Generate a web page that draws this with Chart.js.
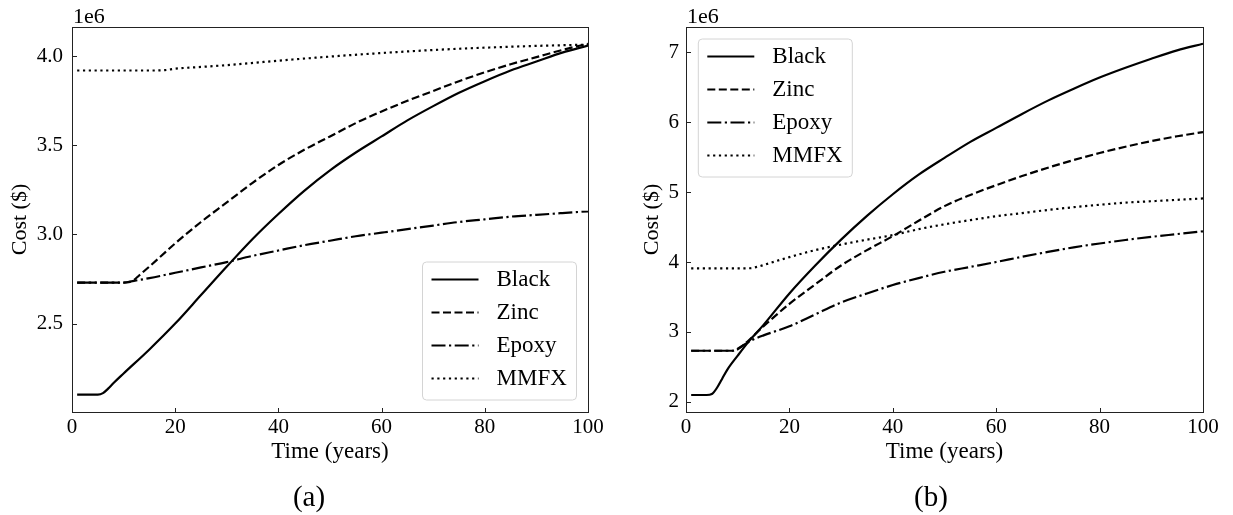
<!DOCTYPE html>
<html><head><meta charset="utf-8">
<script src="https://cdn.jsdelivr.net/npm/chart.js@4.4.0/dist/chart.umd.min.js"></script>
<style>
html,body{margin:0;padding:0;background:#fff;}
#wrap{position:relative;width:1233px;height:515px;overflow:hidden;}
canvas{position:absolute;top:0;}
</style></head><body>
<div id="wrap">
<canvas id="ca" width="613" height="515" style="left:0;width:613px;height:515px"></canvas>
<canvas id="cb" width="620" height="515" style="left:613px;width:620px;height:515px"></canvas>
</div>
<script>
// ---------- DATA ----------
const seriesNames = ['Black', 'Zinc', 'Epoxy', 'MMFX'];
const xTicks = [0, 20, 40, 60, 80, 100];
const yTicksA = [2.5, 3.0, 3.5, 4.0];
const yTicksB = [2, 3, 4, 5, 6, 7];

// Panel (a)  (cost in millions of $)
const blackA_t = [1, 5, 6, 7, 8, 10, 15, 20, 25, 30, 35, 40, 45, 50, 55, 60, 65, 70, 75, 80, 85, 90, 95, 100];
const blackA_c = [2.102, 2.102, 2.11, 2.135, 2.165, 2.22, 2.355, 2.50, 2.66, 2.82, 2.975, 3.115, 3.245, 3.36, 3.46, 3.55, 3.64, 3.72, 3.795, 3.86, 3.92, 3.97, 4.02, 4.06];
const zincA_t = [1, 5, 10, 11, 12, 13, 15, 20, 25, 30, 35, 40, 45, 50, 55, 60, 65, 70, 75, 80, 85, 90, 95, 100];
const zincA_c = [2.73, 2.73, 2.73, 2.732, 2.745, 2.77, 2.82, 2.95, 3.07, 3.18, 3.29, 3.39, 3.475, 3.55, 3.625, 3.69, 3.75, 3.805, 3.86, 3.91, 3.955, 3.995, 4.035, 4.07];
const epoxyA_t = [1, 5, 10, 12, 15, 20, 25, 30, 35, 40, 45, 50, 55, 60, 65, 70, 75, 80, 85, 90, 95, 100];
const epoxyA_c = [2.73, 2.73, 2.73, 2.74, 2.755, 2.785, 2.815, 2.845, 2.88, 2.91, 2.94, 2.965, 2.99, 3.01, 3.03, 3.05, 3.07, 3.085, 3.10, 3.11, 3.12, 3.13];
const mmfxA_t = [1, 10, 15, 18, 20, 25, 30, 40, 50, 60, 70, 80, 90, 100];
const mmfxA_c = [3.92, 3.92, 3.92, 3.922, 3.93, 3.94, 3.95, 3.975, 3.998, 4.018, 4.035, 4.048, 4.058, 4.065];

// Panel (b)
const blackB_t = [1, 4, 5, 6, 7, 8, 10, 12, 15, 20, 25, 30, 35, 40, 45, 50, 55, 60, 65, 70, 75, 80, 85, 90, 95, 100];
const blackB_c = [2.096, 2.096, 2.11, 2.2, 2.33, 2.46, 2.66, 2.85, 3.1, 3.55, 3.95, 4.32, 4.66, 4.97, 5.25, 5.49, 5.72, 5.92, 6.12, 6.31, 6.48, 6.64, 6.78, 6.91, 7.03, 7.125];
const zincB_t = [1, 5, 9, 10, 12, 15, 20, 25, 30, 35, 40, 45, 50, 55, 60, 65, 70, 75, 80, 85, 90, 95, 100];
const zincB_c = [2.73, 2.73, 2.73, 2.75, 2.87, 3.08, 3.40, 3.68, 3.95, 4.17, 4.37, 4.59, 4.80, 4.96, 5.10, 5.23, 5.35, 5.46, 5.56, 5.65, 5.73, 5.80, 5.86];
const epoxyB_t = [1, 5, 9, 10, 12, 13, 15, 20, 25, 30, 35, 40, 45, 50, 55, 60, 65, 70, 75, 80, 85, 90, 95, 100];
const epoxyB_c = [2.73, 2.73, 2.73, 2.76, 2.85, 2.89, 2.95, 3.08, 3.25, 3.42, 3.55, 3.67, 3.77, 3.86, 3.93, 4.00, 4.075, 4.145, 4.21, 4.265, 4.315, 4.36, 4.40, 4.44];
const mmfxB_t = [1, 5, 12, 14, 16, 20, 25, 30, 35, 40, 45, 50, 55, 60, 65, 70, 75, 80, 85, 90, 95, 100];
const mmfxB_c = [3.91, 3.91, 3.91, 3.935, 3.98, 4.07, 4.17, 4.25, 4.32, 4.385, 4.47, 4.54, 4.60, 4.655, 4.70, 4.745, 4.785, 4.82, 4.85, 4.87, 4.89, 4.91];

// ---------- STYLE ----------
const FONT = "'Liberation Serif', 'Times New Roman', serif";
const dashes = [[], [8, 3.5], [14, 3.5, 2.2, 3.5], [2.2, 3.6]];

function pts(t, c) { return t.map((v, i) => ({ x: v, y: c[i] })); }

function makeDatasets(list) {
  return list.map((d, i) => ({
    label: seriesNames[i],
    data: pts(d[0], d[1]),
    borderColor: '#000',
    borderWidth: 2.2,
    borderDash: dashes[i],
    pointRadius: 0,
    fill: false,
    cubicInterpolationMode: 'monotone'
  }));
}

const decor = {
  id: 'decor',
  afterDatasetsDraw(chart, args, o) {
    const { ctx, chartArea: a, scales: { x, y } } = chart;
    ctx.save();
    // legend box
    const bx = o.corner === 'br' ? a.right - o.offX - o.w : a.left + o.offX;
    const by = o.corner === 'br' ? a.bottom - o.offY - o.h : a.top + o.offY;
    const r = 4;
    ctx.beginPath();
    ctx.moveTo(bx + r, by);
    ctx.lineTo(bx + o.w - r, by); ctx.quadraticCurveTo(bx + o.w, by, bx + o.w, by + r);
    ctx.lineTo(bx + o.w, by + o.h - r); ctx.quadraticCurveTo(bx + o.w, by + o.h, bx + o.w - r, by + o.h);
    ctx.lineTo(bx + r, by + o.h); ctx.quadraticCurveTo(bx, by + o.h, bx, by + o.h - r);
    ctx.lineTo(bx, by + r); ctx.quadraticCurveTo(bx, by, bx + r, by);
    ctx.closePath();
    ctx.fillStyle = 'rgba(255,255,255,0.85)';
    ctx.fill();
    ctx.lineWidth = 1;
    ctx.strokeStyle = '#d4d4d4';
    ctx.stroke();
    chart.data.datasets.forEach((ds, i) => {
      const cy = by + 17.5 + 33 * i;
      ctx.setLineDash(ds.borderDash || []);
      ctx.lineWidth = ds.borderWidth;
      ctx.strokeStyle = ds.borderColor;
      ctx.beginPath(); ctx.moveTo(bx + 9, cy); ctx.lineTo(bx + 56, cy); ctx.stroke();
      ctx.setLineDash([]);
      ctx.fillStyle = '#000';
      ctx.font = '23px ' + FONT;
      ctx.textAlign = 'left';
      ctx.textBaseline = 'middle';
      ctx.fillText(ds.label, bx + 74, cy);
    });
    // frame
    ctx.setLineDash([]);
    ctx.lineWidth = 1;
    ctx.strokeStyle = '#222';
    ctx.strokeRect(a.left + 0.5, a.top + 0.5, a.right - a.left, a.bottom - a.top);
    // inward ticks
    ctx.beginPath();
    x.ticks.forEach(t => {
      const px = Math.round(x.getPixelForValue(t.value)) + 0.5;
      ctx.moveTo(px, a.bottom + 0.5); ctx.lineTo(px, a.bottom - 4);
    });
    y.ticks.forEach(t => {
      const py = Math.round(y.getPixelForValue(t.value)) + 0.5;
      ctx.moveTo(a.left + 0.5, py); ctx.lineTo(a.left + 5, py);
    });
    ctx.stroke();
    // offset text
    ctx.fillStyle = '#000';
    ctx.font = '22px ' + FONT;
    ctx.textAlign = 'left';
    ctx.textBaseline = 'alphabetic';
    ctx.fillText('1e6', a.left + 1, 23);
    // caption
    ctx.font = '29px ' + FONT;
    ctx.textAlign = 'center';
    ctx.textBaseline = 'middle';
    ctx.fillText(o.caption, o.capX, 498);
    ctx.restore();
  }
};

function makeChart(id, datasets, yMin, yMax, yTicks, fmt, opt) {
  return new Chart(document.getElementById(id), {
    type: 'line',
    data: { datasets },
    plugins: [decor],
    options: {
      responsive: false,
      devicePixelRatio: 1,
      animation: false,
      layout: { padding: { left: 0, top: 27, right: opt.padRight, bottom: 49 } },
      plugins: {
        legend: { display: false },
        tooltip: { enabled: false },
        decor: opt.decor
      },
      scales: {
        x: {
          type: 'linear', min: 0, max: 100,
          afterBuildTicks: s => { s.ticks = xTicks.map(v => ({ value: v })); },
          ticks: { font: { family: FONT, size: 21 }, color: '#000', padding: 3, maxRotation: 0, autoSkip: false },
          grid: { display: false, drawTicks: false },
          border: { display: false },
          title: { display: true, text: 'Time (years)', color: '#000', font: { family: FONT, size: 23 }, padding: { top: 0, bottom: 0 } },
          afterFit: s => { s.height = 54; }
        },
        y: {
          type: 'linear', min: yMin, max: yMax,
          afterBuildTicks: s => { s.ticks = yTicks.map(v => ({ value: v })); },
          ticks: { font: { family: FONT, size: 21 }, color: '#000', padding: opt.yPad, callback: fmt },
          grid: { display: false, drawTicks: false },
          border: { display: false },
          title: { display: true, text: 'Cost ($)', color: '#000', font: { family: FONT, size: 22 }, padding: { top: opt.yTitlePad, bottom: 0 } },
          afterFit: s => { s.width = opt.yWidth; }
        }
      }
    }
  });
}

makeChart('ca',
  makeDatasets([[blackA_t, blackA_c], [zincA_t, zincA_c], [epoxyA_t, epoxyA_c], [mmfxA_t, mmfxA_c]]),
  2.004, 4.164, yTicksA, v => Number(v).toFixed(1),
  { padRight: 25, yWidth: 72, yPad: 9, yTitlePad: 7,
    decor: { corner: 'br', offX: 11.5, offY: 12, w: 154, h: 138, caption: '(a)', capX: 309 } });

makeChart('cb',
  makeDatasets([[blackB_t, blackB_c], [zincB_t, zincB_c], [epoxyB_t, epoxyB_c], [mmfxB_t, mmfxB_c]]),
  1.853, 7.364, yTicksB, v => String(Math.round(v)),
  { padRight: 30, yWidth: 73, yPad: 7, yTitlePad: 26,
    decor: { corner: 'tl', offX: 12.3, offY: 12, w: 154, h: 138, caption: '(b)', capX: 318 } });
</script>
</body></html>
